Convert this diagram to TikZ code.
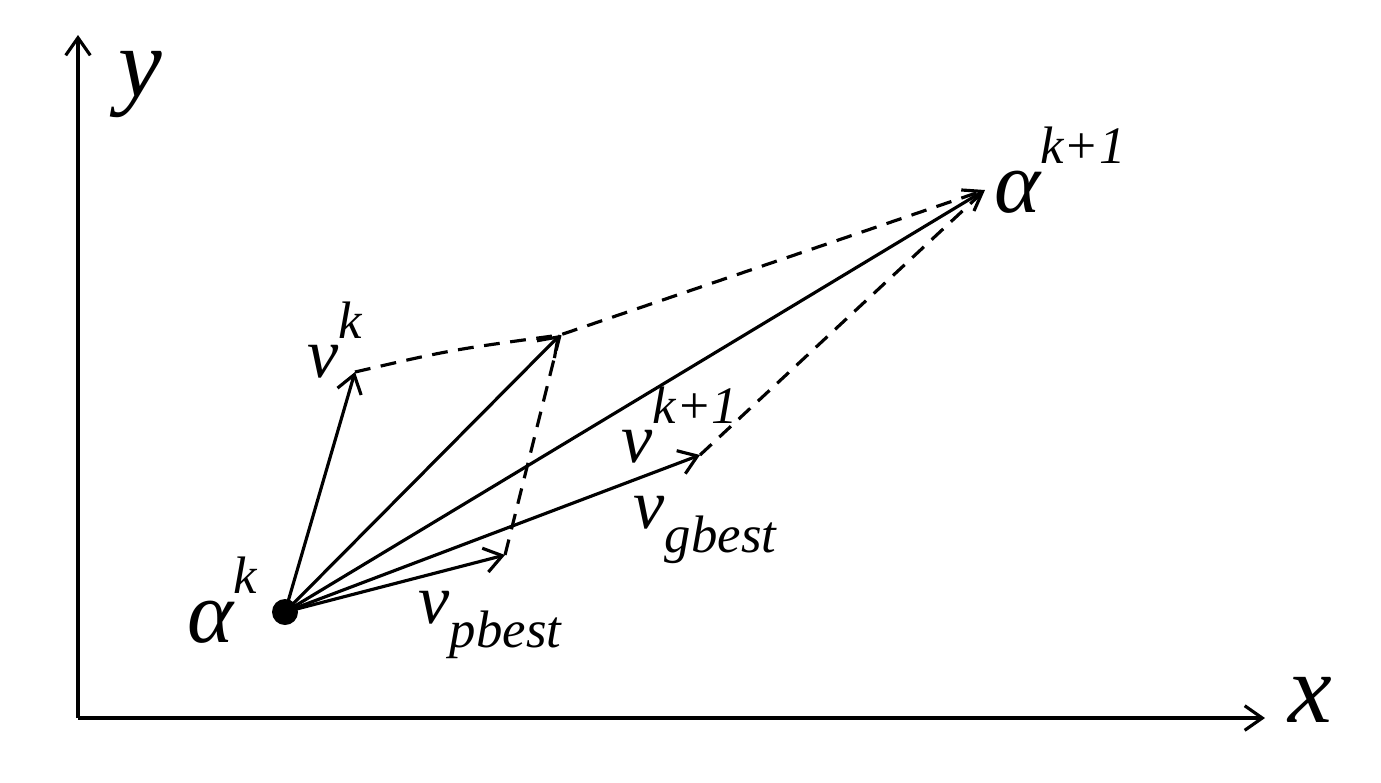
\documentclass[tikz,border=0pt]{standalone}
\usepackage{fontspec}
\setmainfont{Liberation Serif}
\usetikzlibrary{arrows.meta}
\newcommand{\sups}[1]{\raisebox{0.55em}{\fontsize{30}{30}\selectfont #1}}
\newcommand{\subs}[1]{\raisebox{-0.35em}{\fontsize{30}{30}\selectfont #1}}
\begin{document}
\begin{tikzpicture}[x=0.02cm,y=-0.02cm,
  vec/.style={line width=1.8pt,-{Straight Barb[length=10pt,width=14pt]}},
  dsh/.style={line width=1.8pt,dash pattern=on 9pt off 6pt},
  lab/.style={font=\fontsize{40}{40}\selectfont\itshape,inner sep=0pt}]
\useasboundingbox (0,0) rectangle (1381,782);
\coordinate (O) at (78,718);
\coordinate (Y) at (78,35);
\coordinate (X) at (1265,718);
\draw[vec] (O) -- (Y);
\draw[vec] (O) -- (X);
\node[lab,font=\fontsize{56}{56}\selectfont\itshape] (ylab) at (140,85) {y};
\node[lab,font=\fontsize{56}{56}\selectfont\itshape] (xlab) at (1310,700) {x};
\coordinate (A) at (285,612);
\fill (A) circle (13);
\coordinate (vk) at (355,372);
\coordinate (m) at (560,335);
\coordinate (a1) at (985,190);
\coordinate (vg) at (700,455);
\coordinate (vp) at (505,555);
\draw[vec] (A) -- (vk);
\draw[vec] (A) -- (m);
\draw[vec] (A) -- (a1);
\draw[vec] (A) -- (vg);
\draw[vec] (A) -- (vp);
\draw[dsh] (vk) .. controls (450,350) .. (m) -- (a1);
\draw[dsh] (m) -- (vp);
\draw[dsh] (vg) -- (a1);
\node[lab,font=\fontsize{50}{50}\selectfont\itshape] (lak) at (222,600) {α\sups{k}};
\node[lab,font=\fontsize{50}{50}\selectfont\itshape] (la1) at (1060,170) {α\sups{k+1}};
\node[lab] (lvk) at (335,340) {v\sups{k}};
\node[lab] (lvk1) at (680,425) {v\sups{k+1}};
\node[lab] (lvg) at (705,530) {v\subs{gbest}};
\node[lab] (lvp) at (490,625) {v\subs{pbest}};
\end{tikzpicture}
\end{document}
